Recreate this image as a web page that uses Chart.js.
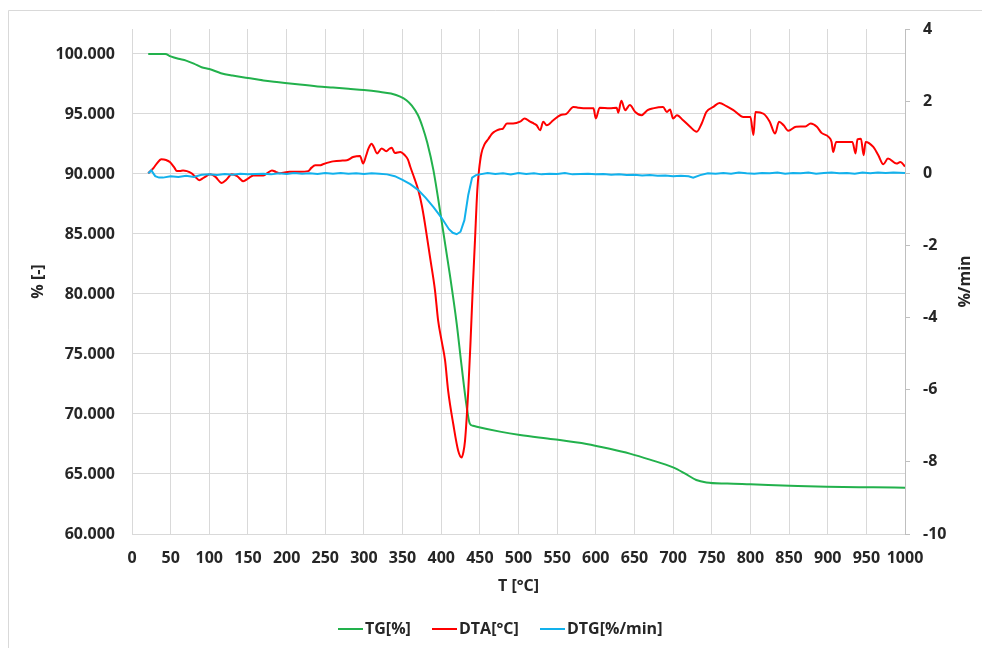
<!DOCTYPE html>
<html>
<head>
<meta charset="utf-8">
<script src="https://cdn.jsdelivr.net/npm/chart.js@4/dist/chart.umd.min.js"></script>
<style>
  html, body { margin: 0; padding: 0; background: #ffffff; }
  #wrap { width: 982px; height: 648px; position: relative; }
</style>
</head>
<body>
<div id="wrap"><canvas id="c" width="982" height="648"></canvas></div>
<script>
// ---- data ----
const xTicks = [0, 50, 100, 150, 200, 250, 300, 350, 400, 450, 500, 550, 600, 650, 700, 750, 800, 850, 900, 950, 1000];
const leftTicks = [60, 65, 70, 75, 80, 85, 90, 95, 100];
const rightTicks = [-10, -8, -6, -4, -2, 0, 2, 4];
const seriesNames = ["TG[%]", "DTA[°C]", "DTG[%/min]"];

const tgT = [21, 30, 43, 50, 60, 70, 80, 90, 100, 115, 130, 150, 170, 190, 217, 240, 260, 280, 300, 320, 335, 347, 355, 362, 370, 376, 382, 390, 400, 411, 420, 426.5, 433, 437, 441, 446, 476, 502, 545, 588, 618, 644, 670, 700, 715, 730, 743, 770, 800, 851, 899, 959, 1000];
const tgV = [100.0, 100.0, 100.0, 99.8, 99.6, 99.45, 99.2, 98.9, 98.75, 98.4, 98.2, 98.0, 97.8, 97.65, 97.45, 97.3, 97.2, 97.1, 97.0, 96.85, 96.7, 96.45, 96.15, 95.7, 94.9, 93.9, 92.6, 90.3, 86.3, 81.7, 77.56, 73.94, 70.6, 69.2, 69.02, 68.94, 68.53, 68.25, 67.9, 67.5, 67.1, 66.7, 66.2, 65.55, 65.05, 64.5, 64.3, 64.2, 64.14, 64.03, 63.94, 63.89, 63.86];

const dtaT = [21, 28, 32, 38, 44, 49, 55, 58, 62, 66, 71, 77, 82, 87, 93, 101, 108, 116, 122, 129, 136, 144, 150, 157, 170, 176, 181, 186, 191, 204, 217, 228, 232, 237, 243, 247, 256, 260, 270, 278, 286, 295, 299, 303, 306, 310, 313, 317, 323, 329, 333, 336, 340, 347, 353, 357, 360, 365, 370.4, 375, 379, 385.5, 392, 396, 400.5, 405, 409, 415.6, 422, 426.4, 428.5, 430.8, 435, 438, 440.7, 443.7, 446.7, 449, 452, 456, 461, 465, 468, 472, 476, 480, 485, 493, 502, 508, 515, 520, 523.5, 528, 532, 536.5, 545, 554, 562, 571, 577, 588, 597, 600, 605, 618, 627, 629, 633, 638, 644, 651, 659, 667, 674, 687, 692, 696, 700, 705, 713, 722, 730.5, 737, 743, 752, 760, 769, 778, 791, 800, 804, 806.5, 817, 825, 832, 837, 843, 849, 859, 871, 878, 886, 892, 901, 905, 907, 911, 932, 936, 938.5, 943, 946.5, 949, 959, 965.5, 972, 978, 989, 994, 1000];
const dtaV = [0, 0.15, 0.27, 0.39, 0.37, 0.31, 0.15, 0.06, 0.06, 0.08, 0.06, 0, -0.1, -0.19, -0.12, -0.03, -0.1, -0.27, -0.18, -0.03, -0.08, -0.22, -0.15, -0.06, -0.06, 0.02, 0.08, 0.04, 0, 0.04, 0.04, 0.06, 0.15, 0.22, 0.22, 0.25, 0.31, 0.33, 0.35, 0.36, 0.45, 0.48, 0.27, 0.5, 0.69, 0.82, 0.72, 0.55, 0.69, 0.61, 0.68, 0.71, 0.56, 0.59, 0.5, 0.38, 0.18, -0.12, -0.47, -0.9, -1.4, -2.32, -3.25, -4.08, -4.64, -5.19, -6.03, -6.95, -7.69, -7.88, -7.75, -7.42, -6.03, -4.64, -3.25, -1.86, -0.47, 0.1, 0.55, 0.8, 0.95, 1.08, 1.14, 1.19, 1.22, 1.24, 1.38, 1.38, 1.43, 1.52, 1.43, 1.38, 1.33, 1.19, 1.43, 1.33, 1.47, 1.61, 1.65, 1.84, 1.82, 1.80, 1.80, 1.52, 1.82, 1.80, 1.82, 1.68, 2.01, 1.75, 1.89, 1.70, 1.61, 1.75, 1.80, 1.84, 1.70, 1.77, 1.52, 1.61, 1.47, 1.29, 1.15, 1.38, 1.70, 1.84, 1.95, 1.86, 1.75, 1.56, 1.56, 1.06, 1.70, 1.65, 1.43, 1.10, 1.43, 1.33, 1.18, 1.29, 1.30, 1.38, 1.29, 1.12, 1.01, 0.87, 0.59, 0.87, 0.87, 0.55, 0.94, 0.96, 0.5, 0.87, 0.73, 0.5, 0.25, 0.41, 0.27, 0.31, 0.19];

const dtgT = [21, 25, 30, 35, 40, 50, 60, 70, 80, 90, 100, 110, 120, 130, 140, 150, 160, 170, 180, 190, 200, 210, 220, 230, 240, 250, 260, 270, 280, 290, 300, 310, 320, 330, 340, 350, 360, 370, 380, 390, 400, 410, 415, 420, 425, 430, 435, 440, 445, 450, 460, 470, 480, 490, 500, 510, 520, 530, 540, 550, 560, 570, 580, 590, 600, 610, 620, 630, 640, 650, 660, 670, 680, 690, 700, 710, 720, 726, 735, 745, 755, 765, 775, 785, 795, 805, 815, 825, 835, 845, 855, 865, 875, 885, 895, 905, 915, 925, 935, 945, 955, 965, 975, 985, 1000];
const dtgV = [0, 0.08, -0.08, -0.12, -0.12, -0.08, -0.1, -0.07, -0.1, -0.04, -0.03, -0.05, -0.02, -0.04, -0.01, -0.03, -0.02, -0.01, -0.03, 0, -0.02, 0.01, -0.01, 0, -0.02, 0.01, -0.01, 0.01, -0.01, 0, -0.02, 0, -0.01, -0.03, -0.08, -0.18, -0.3, -0.46, -0.68, -0.94, -1.22, -1.55, -1.65, -1.69, -1.62, -1.3, -0.6, -0.12, -0.05, -0.03, 0.01, -0.02, 0, -0.03, 0.01, -0.02, 0, -0.03, -0.01, -0.02, 0.01, -0.03, -0.02, -0.01, -0.03, -0.02, -0.04, -0.03, -0.05, -0.04, -0.06, -0.05, -0.07, -0.06, -0.08, -0.07, -0.08, -0.12, -0.05, 0, -0.01, 0.01, -0.01, 0.02, 0, -0.01, 0.01, 0, 0.02, -0.01, 0.01, 0, 0.02, -0.01, 0.01, 0.02, 0, 0.01, -0.01, 0.02, 0, 0.02, 0.01, 0.02, 0.01];

function pts(xs, ys) { return xs.map((x, i) => ({ x: x, y: ys[i] })); }

const FONT_FAMILY = "'Open Sans', 'DejaVu Sans', sans-serif";
const TICK_FONT = { family: FONT_FAMILY, size: 16, weight: 'bold' };
const TEXT_COLOR = '#262626';
const GRID = '#d9d9d9';

const decor = {
  id: 'decor',
  beforeDraw(chart) {
    const ctx = chart.ctx;
    ctx.save();
    ctx.fillStyle = '#ffffff';
    ctx.fillRect(0, 0, chart.width, chart.height);
    ctx.strokeStyle = '#d9d9d9';
    ctx.lineWidth = 1;
    ctx.beginPath();
    ctx.moveTo(8.5, chart.height);
    ctx.lineTo(8.5, 10.5);
    ctx.lineTo(chart.width, 10.5);
    ctx.stroke();
    ctx.restore();
  },
  afterDraw(chart) {
    const ctx = chart.ctx;
    const a = chart.chartArea;
    ctx.save();
    ctx.fillStyle = TEXT_COLOR;
    ctx.font = "bold 16px " + FONT_FAMILY;
    ctx.textAlign = 'center';
    ctx.textBaseline = 'middle';
    ctx.save();
    ctx.translate(38, (a.top + a.bottom) / 2);
    ctx.rotate(-Math.PI / 2);
    ctx.fillText('% [-]', 0, 0);
    ctx.restore();
    ctx.save();
    ctx.translate(965, (a.top + a.bottom) / 2);
    ctx.rotate(-Math.PI / 2);
    ctx.fillText('%/min', 0, 0);
    ctx.restore();
    ctx.fillText('T [°C]', (a.left + a.right) / 2, 586);
    const items = [
      { name: seriesNames[0], color: '#22b14c', x: 338 },
      { name: seriesNames[1], color: '#ff0000', x: 432 },
      { name: seriesNames[2], color: '#12b1ec', x: 540 }
    ];
    ctx.textAlign = 'left';
    items.forEach(it => {
      ctx.strokeStyle = it.color;
      ctx.lineWidth = 2;
      ctx.beginPath();
      ctx.moveTo(it.x, 629);
      ctx.lineTo(it.x + 25, 629);
      ctx.stroke();
      ctx.fillText(it.name, it.x + 27, 629);
    });
    ctx.restore();
  }
};

new Chart(document.getElementById('c'), {
  type: 'line',
  data: {
    datasets: [
      { label: seriesNames[0], data: pts(tgT, tgV), yAxisID: 'y', borderColor: '#22b14c', borderWidth: 2, pointRadius: 0, cubicInterpolationMode: 'monotone', order: 3 },
      { label: seriesNames[1], data: pts(dtaT, dtaV), yAxisID: 'y1', borderColor: '#ff0000', borderWidth: 2, pointRadius: 0, cubicInterpolationMode: 'monotone', order: 2 },
      { label: seriesNames[2], data: pts(dtgT, dtgV), yAxisID: 'y1', borderColor: '#12b1ec', borderWidth: 2, pointRadius: 0, tension: 0, order: 1 }
    ]
  },
  options: {
    responsive: false,
    animation: false,
    layout: { padding: { top: 29, left: 0, right: 0, bottom: 0 } },
    plugins: { legend: { display: false }, tooltip: { enabled: false } },
    scales: {
      x: {
        type: 'linear', min: 0, max: 1000,
        afterBuildTicks: s => { s.ticks = xTicks.map(v => ({ value: v })); },
        afterFit: s => { s.height = 114; },
        ticks: { font: TICK_FONT, color: TEXT_COLOR, padding: 15, maxRotation: 0, autoSkip: false, callback: v => String(v) },
        grid: { color: GRID, lineWidth: 1, drawTicks: false },
        border: { display: true, color: GRID }
      },
      y: {
        type: 'linear', position: 'left', min: 60, max: 102.083,
        afterBuildTicks: s => { s.ticks = leftTicks.map(v => ({ value: v })); },
        afterFit: s => { s.width = 132; },
        ticks: { font: TICK_FONT, color: TEXT_COLOR, padding: 17, callback: v => Number(v).toFixed(3) },
        grid: { color: GRID, lineWidth: 1, drawTicks: false },
        border: { display: false }
      },
      y1: {
        type: 'linear', position: 'right', min: -10, max: 4,
        afterBuildTicks: s => { s.ticks = rightTicks.map(v => ({ value: v })); },
        afterFit: s => { s.width = 77; },
        ticks: { font: TICK_FONT, color: TEXT_COLOR, padding: 13, callback: v => String(v) },
        grid: { drawOnChartArea: false, drawTicks: true, tickLength: 5, color: '#bfbfbf' },
        border: { display: true, color: '#bfbfbf' }
      }
    }
  },
  plugins: [decor]
});
</script>
</body>
</html>
